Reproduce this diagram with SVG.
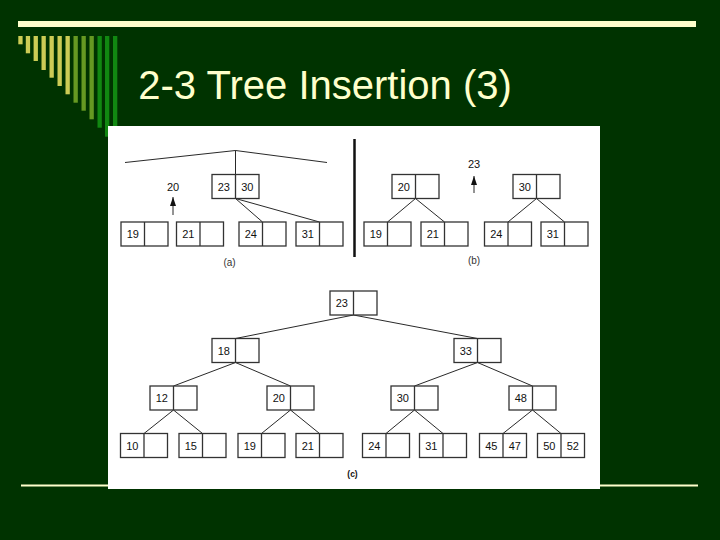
<svg xmlns="http://www.w3.org/2000/svg" width="720" height="540" viewBox="0 0 720 540">
<defs>
<style>
.bg{fill:#003300}
.cream{fill:#FFFFCC}
.title{font-family:"Liberation Sans",Arial,sans-serif;font-size:40px;fill:#FFFFCC}
.y{fill:#CCCC55}
.o{fill:#669922}
.g{fill:#118811}
.box rect{fill:#fff;stroke:#333;stroke-width:1.3}
.box line{stroke:#333;stroke-width:1.3}
.box text{font-family:"Liberation Sans",Arial,sans-serif;font-size:11px;fill:#111;text-anchor:middle}
.conn line,.conn polyline{stroke:#111;stroke-width:0.9;fill:none}
.lbl{font-family:"Liberation Sans",Arial,sans-serif;font-size:11px;fill:#111;text-anchor:middle}
.cap{font-family:"Liberation Sans",Arial,sans-serif;font-size:10px;fill:#333;text-anchor:middle}
</style>
<marker id="ah" markerUnits="userSpaceOnUse" markerWidth="9" markerHeight="7" refX="9" refY="3" orient="auto">
<path d="M0,0 L9,3 L0,6 Z" fill="#111"/>
</marker>
</defs>
<rect class="bg" x="0" y="0" width="720" height="540"/>
<g id="decor">
<rect class="cream" x="18" y="21" width="678" height="6"/>
<rect class="y" x="18.3" y="36" width="4.3" height="8.3"/>
<rect class="y" x="25.8" y="36" width="4.3" height="17.3"/>
<rect class="y" x="33.6" y="36" width="4.3" height="25"/>
<rect class="y" x="41.5" y="36" width="4.3" height="34"/>
<rect class="y" x="49.5" y="36" width="4.3" height="41.7"/>
<rect class="y" x="57.5" y="36" width="4.3" height="50"/>
<rect class="y" x="65.5" y="36" width="4.3" height="58.3"/>
<rect class="o" x="73.5" y="36" width="4.3" height="66.7"/>
<rect class="o" x="81.5" y="36" width="4.3" height="74.7"/>
<rect class="o" x="89.5" y="36" width="4.3" height="83.3"/>
<rect class="g" x="97.5" y="36" width="4.3" height="91.7"/>
<rect class="g" x="105" y="36" width="4.3" height="100.7"/>
<rect class="g" x="113" y="36" width="4.3" height="105"/>
<line x1="21" y1="485.5" x2="698" y2="485.5" stroke="#FFFFCC" stroke-width="2"/>
<text class="title" x="138.3" y="98.5">2-3 Tree Insertion (3)</text>
<rect x="108" y="126" width="492" height="363" fill="#fff"/>
<line x1="354.5" y1="139" x2="354.5" y2="257" stroke="#111" stroke-width="2.5"/>
<text class="cap" x="229.5" y="265.5">(a)</text>
<text class="cap" x="474" y="263.5">(b)</text>
<text class="cap" x="352.5" y="476.5" style="font-weight:bold;font-size:8.5px;fill:#111">(c)</text>
</g>
<g id="connectors" class="conn">
<polyline points="125,162.5 235.5,150.5 327,162.5"/>
<line x1="235.5" y1="150.5" x2="235.5" y2="174.5"/>
<line x1="235.5" y1="198.5" x2="262.5" y2="222"/>
<line x1="235.5" y1="198.5" x2="319.5" y2="222"/>
<line x1="173" y1="215" x2="173" y2="197" marker-end="url(#ah)"/>
<line x1="415.5" y1="198.5" x2="387.5" y2="222"/>
<line x1="415.5" y1="198.5" x2="444.5" y2="222"/>
<line x1="536.5" y1="198.5" x2="508" y2="222"/>
<line x1="536.5" y1="198.5" x2="564.5" y2="222"/>
<line x1="474" y1="193" x2="474" y2="176" marker-end="url(#ah)"/>
<line x1="353.5" y1="315" x2="235.5" y2="338.5"/>
<line x1="353.5" y1="315" x2="477.5" y2="338.5"/>
<line x1="235.5" y1="362.5" x2="173.5" y2="386"/>
<line x1="235.5" y1="362.5" x2="290.5" y2="386"/>
<line x1="477.5" y1="362.5" x2="414.5" y2="386"/>
<line x1="477.5" y1="362.5" x2="532.5" y2="386"/>
<line x1="173.5" y1="410" x2="144" y2="433.5"/>
<line x1="173.5" y1="410" x2="202.5" y2="433.5"/>
<line x1="290.5" y1="410" x2="261.5" y2="433.5"/>
<line x1="290.5" y1="410" x2="319.5" y2="433.5"/>
<line x1="414.5" y1="410" x2="386" y2="433.5"/>
<line x1="414.5" y1="410" x2="443" y2="433.5"/>
<line x1="532.5" y1="410" x2="503" y2="433.5"/>
<line x1="532.5" y1="410" x2="561" y2="433.5"/>
</g>
<text class="lbl" x="173" y="190.5">20</text>
<text class="lbl" x="474" y="168">23</text>
<g id="a-23-30" class="box" transform="translate(212,174.5)"><rect width="47" height="24"/><line x1="23.5" y1="0" x2="23.5" y2="24"/><text x="11.75" y="16.3">23</text><text x="35.25" y="16.3">30</text></g>
<g id="a-19" class="box" transform="translate(121,222)"><rect width="47" height="24"/><line x1="23.5" y1="0" x2="23.5" y2="24"/><text x="11.75" y="16.3">19</text></g>
<g id="a-21" class="box" transform="translate(176.5,222)"><rect width="47" height="24"/><line x1="23.5" y1="0" x2="23.5" y2="24"/><text x="11.75" y="16.3">21</text></g>
<g id="a-24" class="box" transform="translate(239,222)"><rect width="47" height="24"/><line x1="23.5" y1="0" x2="23.5" y2="24"/><text x="11.75" y="16.3">24</text></g>
<g id="a-31" class="box" transform="translate(296,222)"><rect width="47" height="24"/><line x1="23.5" y1="0" x2="23.5" y2="24"/><text x="11.75" y="16.3">31</text></g>
<g id="b-20" class="box" transform="translate(392,174.5)"><rect width="47" height="24"/><line x1="23.5" y1="0" x2="23.5" y2="24"/><text x="11.75" y="16.3">20</text></g>
<g id="b-30" class="box" transform="translate(513,174.5)"><rect width="47" height="24"/><line x1="23.5" y1="0" x2="23.5" y2="24"/><text x="11.75" y="16.3">30</text></g>
<g id="b-19" class="box" transform="translate(364,222)"><rect width="47" height="24"/><line x1="23.5" y1="0" x2="23.5" y2="24"/><text x="11.75" y="16.3">19</text></g>
<g id="b-21" class="box" transform="translate(421,222)"><rect width="47" height="24"/><line x1="23.5" y1="0" x2="23.5" y2="24"/><text x="11.75" y="16.3">21</text></g>
<g id="b-24" class="box" transform="translate(484.5,222)"><rect width="47" height="24"/><line x1="23.5" y1="0" x2="23.5" y2="24"/><text x="11.75" y="16.3">24</text></g>
<g id="b-31" class="box" transform="translate(541,222)"><rect width="47" height="24"/><line x1="23.5" y1="0" x2="23.5" y2="24"/><text x="11.75" y="16.3">31</text></g>
<g id="c-23" class="box" transform="translate(330,291)"><rect width="47" height="24"/><line x1="23.5" y1="0" x2="23.5" y2="24"/><text x="11.75" y="16.3">23</text></g>
<g id="c-18" class="box" transform="translate(212,338.5)"><rect width="47" height="24"/><line x1="23.5" y1="0" x2="23.5" y2="24"/><text x="11.75" y="16.3">18</text></g>
<g id="c-33" class="box" transform="translate(454,338.5)"><rect width="47" height="24"/><line x1="23.5" y1="0" x2="23.5" y2="24"/><text x="11.75" y="16.3">33</text></g>
<g id="c-12" class="box" transform="translate(150,386)"><rect width="47" height="24"/><line x1="23.5" y1="0" x2="23.5" y2="24"/><text x="11.75" y="16.3">12</text></g>
<g id="c-20" class="box" transform="translate(267,386)"><rect width="47" height="24"/><line x1="23.5" y1="0" x2="23.5" y2="24"/><text x="11.75" y="16.3">20</text></g>
<g id="c-30" class="box" transform="translate(391,386)"><rect width="47" height="24"/><line x1="23.5" y1="0" x2="23.5" y2="24"/><text x="11.75" y="16.3">30</text></g>
<g id="c-48" class="box" transform="translate(509,386)"><rect width="47" height="24"/><line x1="23.5" y1="0" x2="23.5" y2="24"/><text x="11.75" y="16.3">48</text></g>
<g id="c-10" class="box" transform="translate(120.5,433.5)"><rect width="47" height="24"/><line x1="23.5" y1="0" x2="23.5" y2="24"/><text x="11.75" y="16.3">10</text></g>
<g id="c-15" class="box" transform="translate(179,433.5)"><rect width="47" height="24"/><line x1="23.5" y1="0" x2="23.5" y2="24"/><text x="11.75" y="16.3">15</text></g>
<g id="c-19" class="box" transform="translate(238,433.5)"><rect width="47" height="24"/><line x1="23.5" y1="0" x2="23.5" y2="24"/><text x="11.75" y="16.3">19</text></g>
<g id="c-21" class="box" transform="translate(296,433.5)"><rect width="47" height="24"/><line x1="23.5" y1="0" x2="23.5" y2="24"/><text x="11.75" y="16.3">21</text></g>
<g id="c-24" class="box" transform="translate(362.5,433.5)"><rect width="47" height="24"/><line x1="23.5" y1="0" x2="23.5" y2="24"/><text x="11.75" y="16.3">24</text></g>
<g id="c-31" class="box" transform="translate(419.5,433.5)"><rect width="47" height="24"/><line x1="23.5" y1="0" x2="23.5" y2="24"/><text x="11.75" y="16.3">31</text></g>
<g id="c-45-47" class="box" transform="translate(479.5,433.5)"><rect width="47" height="24"/><line x1="23.5" y1="0" x2="23.5" y2="24"/><text x="11.75" y="16.3">45</text><text x="35.25" y="16.3">47</text></g>
<g id="c-50-52" class="box" transform="translate(537.5,433.5)"><rect width="47" height="24"/><line x1="23.5" y1="0" x2="23.5" y2="24"/><text x="11.75" y="16.3">50</text><text x="35.25" y="16.3">52</text></g>
</svg>
